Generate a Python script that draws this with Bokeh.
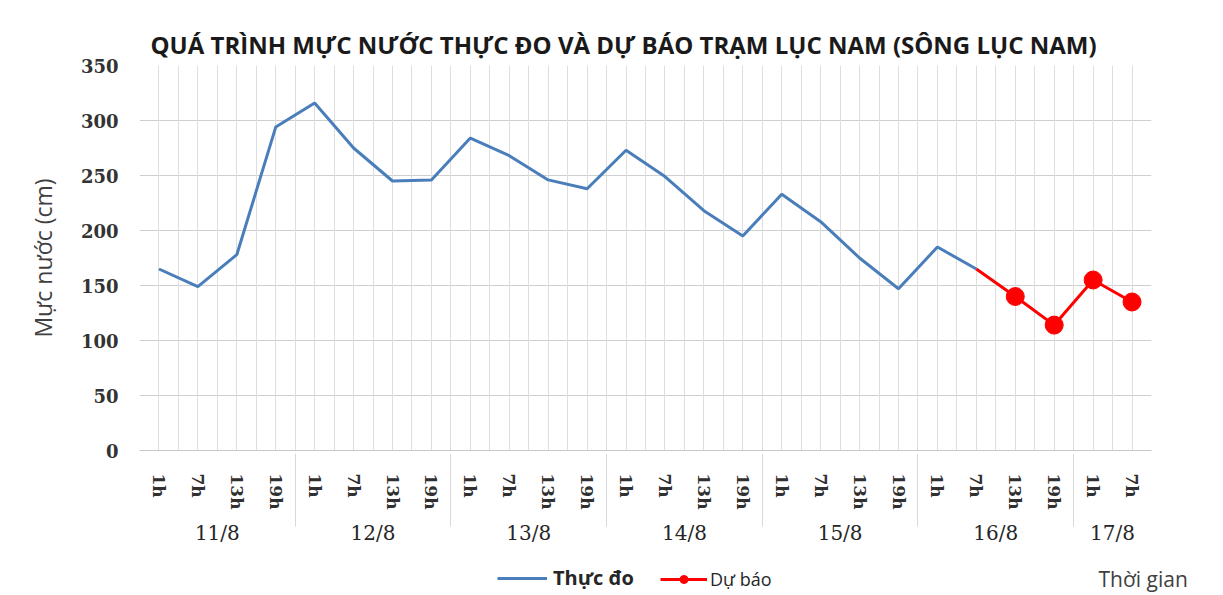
from bokeh.plotting import figure
from bokeh.layouts import column
from bokeh.models import (FactorRange, Range1d, Grid, FixedTicker, Legend, LegendItem, Label)
from bokeh.embed import file_html
from bokeh.resources import INLINE

# ---- data ----
days = ["11/8", "12/8", "13/8", "14/8", "15/8", "16/8", "17/8"]
hours = ["1h", "7h", "13h", "19h"]
hours_last_day = ["1h", "7h"]

observed_levels = [165, 149, 178, 294,
                   316, 275, 245, 246,
                   284, 268, 246, 238,
                   273, 249, 218, 195,
                   233, 208, 175, 147,
                   185, 165]
forecast_times = [("16/8", "7h"), ("16/8", "13h"), ("16/8", "19h"),
                  ("17/8", "1h"), ("17/8", "7h")]
forecast_levels = [165, 140, 114, 155, 135]

y_ticks = [0, 50, 100, 150, 200, 250, 300, 350]

title_text = "QUÁ TRÌNH MỰC NƯỚC THỰC ĐO VÀ DỰ BÁO TRẠM LỤC NAM (SÔNG LỤC NAM)"
y_label = "Mực nước (cm)"
x_label = "Thời gian"
obs_name = "Thực đo"
fc_name = "Dự báo"

OBS_COLOR = "#4A7EBB"
FC_COLOR = "#FF0000"

factors = [(d, h) for d in days[:-1] for h in hours] + [(days[-1], h) for h in hours_last_day]
observed_times = factors[:len(observed_levels)]

W = 1223
p = figure(x_range=FactorRange(factors=factors, factor_padding=0, group_padding=0,
                               subgroup_padding=0, range_padding=0),
           y_range=Range1d(y_ticks[0], y_ticks[-1]),
           width=W, height=560, output_backend="svg", toolbar_location=None,
           min_border_left=139, min_border_right=72, min_border_top=65, min_border_bottom=110,
           background_fill_color="white", border_fill_color="white", outline_line_color=None)
p.frame_align = False

# grids: vertical lines at every half slot of the category axis
p.xgrid.grid_line_color = None
p.add_layout(Grid(dimension=0,
                  ticker=FixedTicker(ticks=[k / 2 for k in range(2 * len(factors) + 1)]),
                  grid_line_color="#dedede", grid_line_width=1))
p.yaxis.ticker = FixedTicker(ticks=y_ticks)
p.ygrid.grid_line_color = "#cfcfcf"
p.ygrid.grid_line_width = 1

# y axis
p.yaxis.axis_line_color = None
p.yaxis.major_tick_line_color = None
p.yaxis.major_tick_out = 0
p.yaxis.major_tick_in = 0
p.yaxis.minor_tick_line_color = None
p.yaxis.major_label_standoff = 21
p.yaxis.major_label_text_font = "DejaVu Serif"
p.yaxis.major_label_text_font_style = "bold"
p.yaxis.major_label_text_font_size = "18px"
p.yaxis.major_label_text_color = "#333333"
p.yaxis.axis_label = y_label
p.yaxis.axis_label_text_font = "Open Sans"
p.yaxis.axis_label_text_font_style = "normal"
p.yaxis.axis_label_text_font_size = "23px"
p.yaxis.axis_label_text_color = "#404040"
p.yaxis.axis_label_standoff = 19

# x axis
p.xaxis.axis_line_color = "#c8c8c8"
p.xaxis.major_tick_line_color = None
p.xaxis.major_tick_out = 15
p.xaxis.major_tick_in = 0
p.xaxis.major_label_orientation = "vertical"
p.xaxis.major_label_standoff = 8
p.xaxis.major_label_text_font = "DejaVu Serif"
p.xaxis.major_label_text_font_style = "bold"
p.xaxis.major_label_text_font_size = "17px"
p.xaxis.major_label_text_color = "#303030"
p.xaxis.group_text_font = "DejaVu Serif"
p.xaxis.group_text_font_size = "20px"
p.xaxis.group_text_font_style = "normal"
p.xaxis.group_text_color = "#262626"
p.xaxis.separator_line_color = "#d9d9d9"
p.xaxis.separator_line_width = 1

# title
p.title.text = title_text
p.title.text_font = "Open Sans"
p.title.text_font_style = "bold"
p.title.text_font_size = "24px"
p.title.text_color = "#1a1a1a"
p.title.align = "left"
p.title.offset = 11

# data
p.line(observed_times, observed_levels, line_color=OBS_COLOR, line_width=3)
p.line(forecast_times, forecast_levels, line_color=FC_COLOR, line_width=3)
p.scatter(forecast_times[1:], forecast_levels[1:], size=18,
          fill_color=FC_COLOR, line_color=FC_COLOR)

# ---- legend strip below the chart ----
q = figure(width=W, height=35, x_range=Range1d(0, W), y_range=Range1d(0, 35),
           output_backend="svg", toolbar_location=None, min_border=0,
           x_axis_location=None, y_axis_location=None, outline_line_color=None,
           background_fill_color="white", border_fill_color="white")
q.frame_align = False
q.grid.visible = False
nan = float("nan")
k_obs = q.line([nan], [nan], line_color=OBS_COLOR, line_width=3)
k_fc_line = q.line([nan], [nan], line_color=FC_COLOR, line_width=3)
k_fc_pts = q.scatter([nan], [nan], size=18, fill_color=FC_COLOR, line_color=FC_COLOR)

leg1 = Legend(items=[LegendItem(label=obs_name, renderers=[k_obs])],
              location=(497, 4), orientation="horizontal",
              glyph_width=50, glyph_height=20, label_standoff=6, padding=0, margin=0,
              border_line_color=None, background_fill_alpha=0,
              label_text_font="Open Sans", label_text_font_style="bold",
              label_text_font_size="20px", label_text_color="#262626")
leg2 = Legend(items=[LegendItem(label=fc_name, renderers=[k_fc_line, k_fc_pts])],
              location=(660, 4), orientation="horizontal",
              glyph_width=47, glyph_height=20, label_standoff=3, padding=0, margin=0,
              border_line_color=None, background_fill_alpha=0,
              label_text_font="Open Sans", label_text_font_style="normal",
              label_text_font_size="18px", label_text_color="#262626")
q.add_layout(leg1)
q.add_layout(leg2)
q.add_layout(Label(x=1098, y=17, text=x_label,
                   text_font="Open Sans", text_font_size="21px", text_color="#404040",
                   text_baseline="middle", text_align="left"))

open("out.html", "w").write(file_html(column(p, q, spacing=0), INLINE))
